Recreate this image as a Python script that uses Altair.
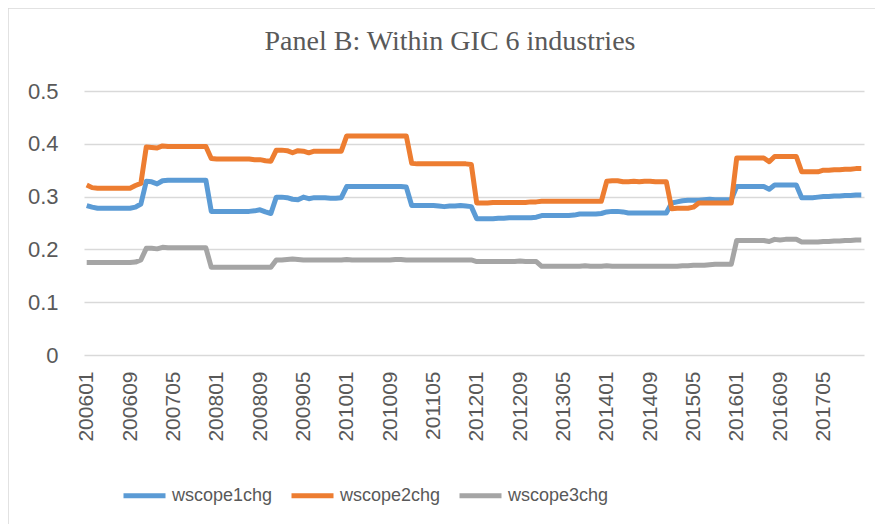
import altair as alt
import pandas as pd

months = [f"{y}{m:02d}" for y in range(2006, 2018) for m in range(1, 13)]
tick_labels = ["200601", "200609", "200705", "200801", "200809", "200905", "201001", "201009",
               "201105", "201201", "201209", "201305", "201401", "201409", "201505", "201601",
               "201609", "201705"]
series_names = ["wscope1chg", "wscope2chg", "wscope3chg"]
series_colors = ["#5B9BD5", "#ED7D31", "#A5A5A5"]
title_text = "Panel B: Within GIC 6 industries"

wscope1chg = [
    0.283, 0.280, 0.278, 0.278, 0.278, 0.278, 0.278, 0.278, 0.278, 0.280, 0.286, 0.329,
    0.328, 0.324, 0.330, 0.331, 0.331, 0.331, 0.331, 0.331, 0.331, 0.331, 0.331, 0.272,
    0.272, 0.272, 0.272, 0.272, 0.272, 0.272, 0.272, 0.273, 0.275, 0.271, 0.268, 0.299,
    0.299, 0.298, 0.295, 0.294, 0.299, 0.296, 0.298, 0.298, 0.298, 0.297, 0.297, 0.298,
    0.319, 0.319, 0.319, 0.319, 0.319, 0.319, 0.319, 0.319, 0.319, 0.319, 0.319, 0.318,
    0.283, 0.283, 0.283, 0.283, 0.283, 0.282, 0.281, 0.282, 0.282, 0.283, 0.282, 0.281,
    0.258, 0.258, 0.258, 0.258, 0.259, 0.259, 0.260, 0.260, 0.260, 0.260, 0.260, 0.261,
    0.264, 0.264, 0.264, 0.264, 0.264, 0.264, 0.265, 0.267, 0.267, 0.267, 0.267, 0.268,
    0.271, 0.272, 0.272, 0.271, 0.269, 0.269, 0.269, 0.269, 0.269, 0.269, 0.269, 0.269,
    0.288, 0.290, 0.292, 0.293, 0.293, 0.293, 0.294, 0.295, 0.294, 0.294, 0.294, 0.294,
    0.319, 0.319, 0.319, 0.319, 0.319, 0.319, 0.314, 0.322, 0.322, 0.322, 0.322, 0.322,
    0.298, 0.298, 0.298, 0.299, 0.300, 0.300, 0.301, 0.301, 0.302, 0.302, 0.303, 0.303,
]
wscope2chg = [
    0.322, 0.317, 0.316, 0.316, 0.316, 0.316, 0.316, 0.316, 0.316, 0.321, 0.325, 0.394,
    0.393, 0.392, 0.396, 0.395, 0.395, 0.395, 0.395, 0.395, 0.395, 0.395, 0.395, 0.372,
    0.371, 0.371, 0.371, 0.371, 0.371, 0.371, 0.371, 0.370, 0.370, 0.368, 0.367, 0.388,
    0.388, 0.387, 0.383, 0.387, 0.386, 0.383, 0.386, 0.386, 0.386, 0.386, 0.386, 0.386,
    0.415, 0.415, 0.415, 0.415, 0.415, 0.415, 0.415, 0.415, 0.415, 0.415, 0.415, 0.415,
    0.363, 0.362, 0.362, 0.362, 0.362, 0.362, 0.362, 0.362, 0.362, 0.362, 0.362, 0.361,
    0.288, 0.288, 0.288, 0.289, 0.289, 0.289, 0.289, 0.289, 0.289, 0.289, 0.290, 0.290,
    0.291, 0.291, 0.291, 0.291, 0.291, 0.291, 0.291, 0.291, 0.291, 0.291, 0.291, 0.291,
    0.329, 0.330, 0.330, 0.328, 0.328, 0.329, 0.328, 0.329, 0.329, 0.328, 0.328, 0.328,
    0.277, 0.278, 0.278, 0.278, 0.280, 0.288, 0.288, 0.288, 0.288, 0.288, 0.288, 0.288,
    0.373, 0.373, 0.373, 0.373, 0.373, 0.373, 0.366, 0.376, 0.376, 0.376, 0.376, 0.376,
    0.347, 0.347, 0.347, 0.347, 0.350, 0.350, 0.351, 0.351, 0.352, 0.352, 0.353, 0.353,
]
wscope3chg = [
    0.175, 0.175, 0.175, 0.175, 0.175, 0.175, 0.175, 0.175, 0.175, 0.176, 0.180, 0.202,
    0.202, 0.201, 0.204, 0.203, 0.203, 0.203, 0.203, 0.203, 0.203, 0.203, 0.203, 0.166,
    0.166, 0.166, 0.166, 0.166, 0.166, 0.166, 0.166, 0.166, 0.166, 0.166, 0.166, 0.180,
    0.180, 0.181, 0.182, 0.181, 0.180, 0.180, 0.180, 0.180, 0.180, 0.180, 0.180, 0.180,
    0.181, 0.180, 0.180, 0.180, 0.180, 0.180, 0.180, 0.180, 0.180, 0.181, 0.181, 0.180,
    0.180, 0.180, 0.180, 0.180, 0.180, 0.180, 0.180, 0.180, 0.180, 0.180, 0.180, 0.180,
    0.177, 0.177, 0.177, 0.177, 0.177, 0.177, 0.177, 0.177, 0.178, 0.177, 0.177, 0.177,
    0.168, 0.168, 0.168, 0.168, 0.168, 0.168, 0.168, 0.168, 0.169, 0.168, 0.168, 0.168,
    0.169, 0.168, 0.168, 0.168, 0.168, 0.168, 0.168, 0.168, 0.168, 0.168, 0.168, 0.168,
    0.168, 0.168, 0.169, 0.169, 0.170, 0.170, 0.170, 0.171, 0.172, 0.172, 0.172, 0.172,
    0.217, 0.217, 0.217, 0.217, 0.217, 0.217, 0.215, 0.219, 0.218, 0.219, 0.219, 0.219,
    0.214, 0.214, 0.214, 0.214, 0.215, 0.215, 0.216, 0.216, 0.217, 0.217, 0.218, 0.218,
]

rows = []
for name, vals in zip(series_names, [wscope1chg, wscope2chg, wscope3chg]):
    for m, v in zip(months, vals):
        rows.append({"month": m, "series": name, "value": v})
df = pd.DataFrame(rows)

FONT = "Liberation Sans"
TXT = "#595959"
GRID = "#D9D9D9"

lines = alt.Chart(df).mark_line(strokeWidth=5, strokeJoin="round").encode(
    x=alt.X("month:O", sort=months,
            scale=alt.Scale(type="point", padding=0.5),
            axis=alt.Axis(values=tick_labels, labelAngle=-90, title=None, ticks=False,
                          domain=False, grid=False, labelFont=FONT, labelFontSize=21,
                          labelColor=TXT, labelPadding=16)),
    y=alt.Y("value:Q", scale=alt.Scale(domain=[0, 0.5], nice=False),
            axis=alt.Axis(values=[0, 0.1, 0.2, 0.3, 0.4, 0.5], title=None, ticks=False,
                          domain=False, gridColor=GRID, gridWidth=1.5,
                          labelExpr="datum.value == 0 ? '0' : format(datum.value, '.1f')",
                          labelFont=FONT, labelFontSize=22, labelColor=TXT, labelPadding=26)),
    color=alt.Color("series:N", scale=alt.Scale(domain=series_names, range=series_colors),
                    legend=alt.Legend(orient="none", legendX=37, legendY=381,
                                      direction="horizontal", title=None,
                                      symbolType="stroke", symbolSize=1764,
                                      symbolStrokeWidth=5, labelFont=FONT,
                                      labelFontSize=18, labelColor=TXT, labelOffset=4,
                                      columnPadding=8)),
)

border = alt.Chart(pd.DataFrame({"a": [0]})).mark_rect(
    fill=None, stroke=GRID, strokeWidth=1.5
).encode(x=alt.value(-76), x2=alt.value(900), y=alt.value(-83), y2=alt.value(700))

title = alt.Chart(pd.DataFrame({"t": [title_text]})).mark_text(
    font="Liberation Serif", fontSize=28, color=TXT, align="center", baseline="alphabetic"
).encode(text="t:N", x=alt.value(366), y=alt.value(-41.5))

chart = alt.layer(border, lines, title).properties(
    width=780, height=264,
    autosize=alt.AutoSizeParams(type="none"),
    padding={"left": 76, "top": 83, "right": 11, "bottom": 169},
).configure_view(stroke=None)

chart.save("out.html", embed_options={"renderer": "svg", "actions": False})
